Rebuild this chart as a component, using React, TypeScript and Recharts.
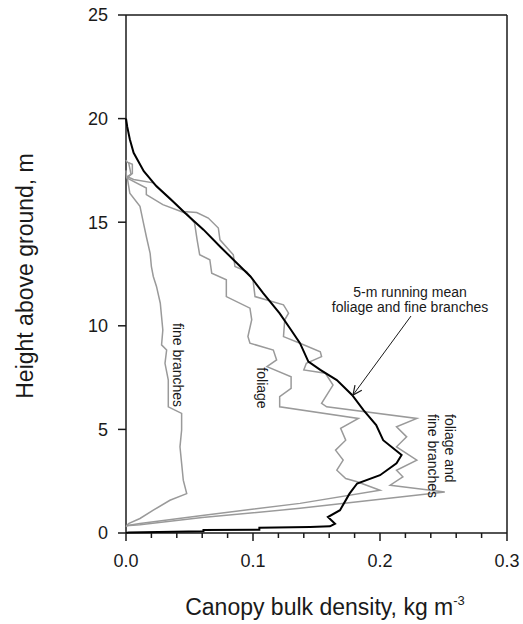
import { Label, ReferenceLine, Scatter, ScatterChart, XAxis, YAxis } from "recharts";

// canopy profiles, [bulk density kg m-3, height m]
const runningMean: [number, number][] = [
	[0, 20.0], [0.001, 19.6], [0.003, 19.0], [0.006, 18.35], [0.014, 17.46],
	[0.024, 16.73], [0.037, 16.0], [0.048, 15.36], [0.061, 14.64], [0.074, 13.83],
	[0.086, 13.1], [0.098, 12.38], [0.108, 11.58], [0.121, 10.6], [0.13, 9.8],
	[0.137, 9.16], [0.1436, 8.27], [0.153, 7.87], [0.166, 7.38], [0.178, 6.66],
	[0.187, 5.93], [0.197, 5.21], [0.2025, 4.48], [0.217, 3.76], [0.213, 3.36],
	[0.2, 2.79], [0.182, 2.39], [0.176, 1.9], [0.1685, 1.1], [0.159, 0.77],
	[0.1646, 0.45], [0.1606, 0.32], [0.145, 0.29], [0.105, 0.25], [0.105, 0.16],
	[0.061, 0.14], [0.061, 0.08], [0.002, 0.03], [0, 0],
];

const fineBranches: [number, number][] = [
	[0.002, 17.9], [0.004, 17.3], [0.001, 17.15], [0.003, 16.4], [0.011, 15.77],
	[0.0136, 15.0], [0.016, 14.31], [0.019, 13.5], [0.02, 12.86], [0.0215, 12.38],
	[0.024, 11.9], [0.027, 11.09], [0.028, 10.44], [0.029, 9.8], [0.028, 9.08],
	[0.032, 8.83], [0.0307, 8.19], [0.0333, 7.38], [0.0333, 6.09], [0.0438, 5.77],
	[0.0438, 4.97], [0.0425, 4.16], [0.0438, 3.36], [0.0451, 2.55], [0.0478, 1.9],
	[0.0346, 1.58], [0.0215, 1.1], [0.011, 0.7], [0.002, 0.45], [0, 0.3],
];

const foliage: [number, number][] = [
	[0, 17.5], [0.0005, 17.14], [0.016, 16.65], [0.016, 16.33], [0.029, 15.85],
	[0.048, 15.41], [0.054, 14.96], [0.056, 14.15], [0.058, 13.43], [0.066, 13.19],
	[0.0675, 12.54], [0.079, 12.22], [0.079, 11.41], [0.0976, 10.85], [0.099, 10.29],
	[0.096, 9.48], [0.0976, 9.16], [0.116, 8.83], [0.1186, 8.35], [0.111, 8.03],
	[0.13, 7.54], [0.13, 6.98], [0.121, 6.58], [0.121, 6.09], [0.183, 5.53],
	[0.169, 5.05], [0.173, 4.48], [0.165, 4.0], [0.171, 3.52], [0.166, 3.03],
	[0.173, 2.63], [0.182, 2.47], [0.2, 2.06], [0.137, 1.43], [0.06, 0.85],
	[0.011, 0.46], [0, 0.35],
];

const foliageAndBranches: [number, number][] = [
	[0, 18.0], [0.001, 17.9], [0.005, 17.8], [0.005, 17.35], [0.001, 17.2],
	[0.006, 17.06], [0.0215, 16.9], [0.0346, 16.17], [0.045, 15.52], [0.0557, 15.47],
	[0.0648, 15.2], [0.0727, 14.72], [0.074, 14.15], [0.0845, 13.43], [0.0858, 12.86],
	[0.095, 12.62], [0.1, 12.22], [0.1016, 11.41], [0.124, 11.01], [0.128, 10.61],
	[0.125, 10.29], [0.124, 9.48], [0.137, 9.16], [0.153, 8.75], [0.154, 8.51],
	[0.142, 8.19], [0.14, 7.87], [0.157, 7.71], [0.163, 7.14], [0.154, 6.26],
	[0.158, 6.09], [0.229, 5.53], [0.213, 5.13], [0.221, 4.64], [0.213, 4.16],
	[0.229, 3.52], [0.213, 3.03], [0.218, 2.71], [0.208, 2.31], [0.251, 1.98],
	[0.137, 1.19], [0.06, 0.75], [0.011, 0.4], [0, 0.35],
];

const xTicks = [0, 0.02, 0.04, 0.06, 0.08, 0.1, 0.12, 0.14, 0.16, 0.18, 0.2, 0.22, 0.24, 0.26, 0.28, 0.3];
const yTicks = [0, 5, 10, 15, 20, 25];

const FONT = "Arial, 'Liberation Sans', sans-serif";
const INK = "#1a1a1a";
const GRAY = "#9a9a9a";

const toPoints = (pairs: [number, number][]) => pairs.map(([v, h]) => ({ v, h }));

const NoDot = () => <g />;

const XTick = ({ x, y, payload }: any) => {
	const major = Math.round(payload.value * 100) % 10 === 0;
	return (
		<g>
			<line x1={x} x2={x} y1={y} y2={y + (major ? 8 : 5)} stroke={INK} strokeWidth={1.5} />
			{major && (
				<text x={x} y={y + 34} textAnchor="middle" fontSize={18} fontFamily={FONT} fill={INK}>
					{payload.value.toFixed(1)}
				</text>
			)}
		</g>
	);
};

const XTitle = () => (
	<text x={325} y={615} textAnchor="middle" fontSize={23} fontFamily={FONT} fill={INK}>
		Canopy bulk density, kg m
		<tspan dy={-10} fontSize={13}>-3</tspan>
	</text>
);

const YTitle = () => (
	<text
		x={33}
		y={276}
		transform="rotate(-90 33 276)"
		textAnchor="middle"
		fontSize={23}
		fontFamily={FONT}
		fill={INK}
	>
		Height above ground, m
	</text>
);

const note = { fontSize: 14, fontFamily: FONT, fill: INK };

export default function App() {
	return (
		<div style={{ position: "absolute", left: 0, top: 0, width: 523, height: 624, background: "#fff" }}>
			<ScatterChart width={523} height={624} margin={{ top: 15, right: 16, left: 0, bottom: 0 }}>
				<XAxis
					type="number"
					dataKey="v"
					domain={[0, 0.3]}
					ticks={xTicks}
					interval={0}
					tickSize={0}
					tickMargin={0}
					tickLine={false}
					tick={<XTick />}
					axisLine={{ stroke: INK, strokeWidth: 1.5 }}
					height={91}
				>
					<Label content={<XTitle />} />
				</XAxis>
				<YAxis
					type="number"
					dataKey="h"
					domain={[0, 25]}
					ticks={yTicks}
					interval={0}
					tickSize={8}
					tickMargin={10}
					tick={{ fill: INK, fontSize: 18, fontFamily: FONT }}
					tickLine={{ stroke: INK, strokeWidth: 1.5 }}
					axisLine={{ stroke: INK, strokeWidth: 1.5 }}
					width={126}
				>
					<Label content={<YTitle />} />
				</YAxis>
				<ReferenceLine y={25} stroke={INK} strokeWidth={1.5} />
				<ReferenceLine x={0.3} stroke={INK} strokeWidth={1.5} />
				<Scatter
					name="fine branches"
					data={toPoints(fineBranches)}
					fill={GRAY}
					line={{ stroke: GRAY, strokeWidth: 1.5 }}
					shape={NoDot}
					isAnimationActive={false}
				/>
				<Scatter
					name="foliage"
					data={toPoints(foliage)}
					fill={GRAY}
					line={{ stroke: GRAY, strokeWidth: 1.5 }}
					shape={NoDot}
					isAnimationActive={false}
				/>
				<Scatter
					name="foliage and fine branches"
					data={toPoints(foliageAndBranches)}
					fill={GRAY}
					line={{ stroke: GRAY, strokeWidth: 1.5 }}
					shape={NoDot}
					isAnimationActive={false}
				/>
				<Scatter
					name="5-m running mean"
					data={toPoints(runningMean)}
					fill="#000"
					line={{ stroke: "#000", strokeWidth: 2 }}
					shape={NoDot}
					isAnimationActive={false}
				/>
			</ScatterChart>
			<svg
				width={523}
				height={624}
				style={{ position: "absolute", left: 0, top: 0, pointerEvents: "none" }}
			>
				<text x={178} y={365} transform="rotate(90 178 365)" textAnchor="middle" dominantBaseline="central" {...note}>
					fine branches
				</text>
				<text x={262} y={388} transform="rotate(90 262 388)" textAnchor="middle" dominantBaseline="central" {...note}>
					foliage
				</text>
				<text x={450} y={414} transform="rotate(90 450 414)" dominantBaseline="central" {...note}>
					foliage and
				</text>
				<text x={433} y={414} transform="rotate(90 433 414)" dominantBaseline="central" {...note}>
					fine branches
				</text>
				<text x={410} y={297} textAnchor="middle" {...note}>
					5-m running mean
				</text>
				<text x={410} y={312} textAnchor="middle" {...note}>
					foliage and fine branches
				</text>
				<line x1={411} y1={316} x2={353} y2={395} stroke={INK} strokeWidth={1} />
				<polyline points="361.8,390.2 353,395 355,385.2" fill="none" stroke={INK} strokeWidth={1.2} />
			</svg>
		</div>
	);
}
